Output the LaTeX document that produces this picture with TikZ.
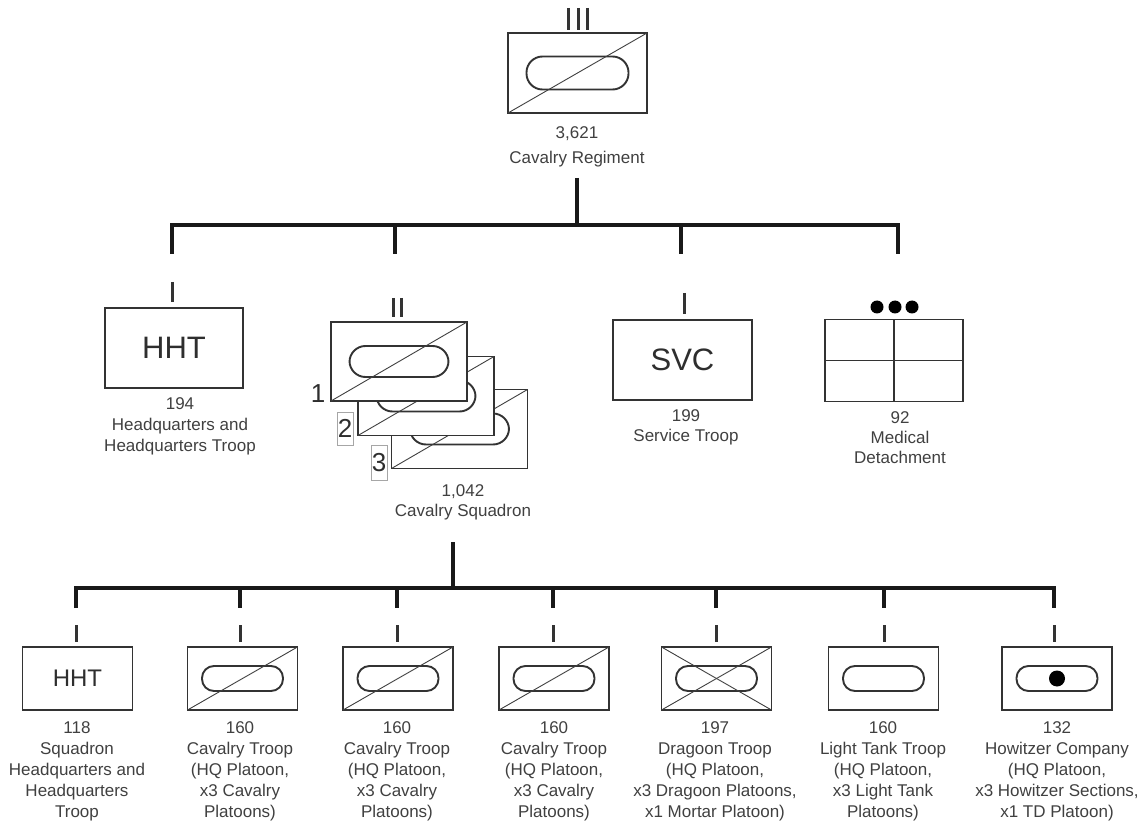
\documentclass[tikz,border=0pt]{standalone}
\usepackage{fontspec}
\setmainfont{Liberation Sans}
\begin{document}
\begin{tikzpicture}[x=1pt,y=-1pt,
  conn/.style={line width=3.6pt, draw=black!90, line cap=butt, line join=miter},
  unit/.style={draw=black!80, line width=1.9pt, fill=white, rectangle, inner sep=0pt, outer sep=0pt},
  bigunit/.style={unit, minimum width=138pt, minimum height=80pt},
  smallunit/.style={unit, minimum width=110pt, minimum height=63pt},
  squnit/.style={unit, minimum width=136pt, minimum height=79pt},
  pill/.style={draw=black!80, line width=1.9pt, rectangle, inner sep=0pt, rounded corners=#1},
  pill/.default=12pt,
  bigpill/.style={pill=16pt, minimum width=100pt, minimum height=32pt},
  smallpill/.style={pill=12pt, minimum width=81pt, minimum height=25pt},
  diag/.style={draw=black!75, line width=0.9pt},
  echelon/.style={draw=black!80, line width=3pt},
  lbl/.style={text=black!75, font=\fontsize{17}{21}\selectfont, align=center, inner sep=0pt, anchor=north},
  lbltwenty/.style={lbl, font=\fontsize{17}{20}\selectfont},
  abbr/.style={text=black!82, font=\fontsize{31}{31}\selectfont},
  abbrsmall/.style={text=black!82, font=\fontsize{24}{24}\selectfont},
  numlbl/.style={text=black!82, font=\fontsize{26}{26}\selectfont, inner sep=0pt},
  numbox/.style={numlbl, draw=black!35, line width=0.6pt, minimum width=16pt},
  dot/.style={fill=black, draw=none, circle, inner sep=0pt}
]
\useasboundingbox (0,0) rectangle (1144,829);

% ---------------- Regiment ----------------
\node[unit, minimum width=139pt, minimum height=80pt] (reg) at (577.5,73) {};
\node[bigpill, minimum width=102pt, minimum height=33pt] (regp) at (reg.center) {};
\draw[diag] (reg.south west) -- (reg.north east);
\draw[echelon] (568,8) -- (568,30) (578,8) -- (578,30) (587,8) -- (587,30);
\node[lbl, font=\fontsize{17}{25}\selectfont] (reglbl) at (577,126) {3,621\\Cavalry Regiment};

% upper bus
\coordinate (regstem) at (577,178);
\coordinate (busA) at (577,225);
\coordinate (dA1) at (172,254);
\coordinate (dA2) at (395,254);
\coordinate (dA3) at (681,254);
\coordinate (dA4) at (898,254);
\draw[conn] (regstem) -- (regstem |- busA);
\draw[conn] (dA1) -- (dA1 |- busA) -- (dA4 |- busA) -- (dA4);
\draw[conn] (dA2 |- busA) -- (dA2);
\draw[conn] (dA3 |- busA) -- (dA3);

% ---------------- HHT ----------------
\node[bigunit, abbr] (hht) at (174,348) {HHT};
\draw[echelon] (172,282) -- (172,302);
\node[lbl] (hhtlbl) at (180,397) {194\\Headquarters and\\Headquarters Troop};

% ---------------- Squadron stack ----------------
\node[squnit] (sq3) at (459.5,429) {};
\node[bigpill, minimum width=99pt, minimum height=31pt] (sqp3) at (sq3.center) {};
\draw[diag] (sq3.south west) -- (sq3.north east);
\node[squnit] (sq2) at (426,396) {};
\node[bigpill, minimum width=99pt, minimum height=31pt] (sqp2) at (sq2.center) {};
\draw[diag] (sq2.south west) -- (sq2.north east);
\node[squnit] (sq1) at (399,361.5) {};
\node[bigpill, minimum width=99pt, minimum height=31pt] (sqp1) at (sq1.center) {};
\draw[diag] (sq1.south west) -- (sq1.north east);
\draw[echelon] (393,298) -- (393,317) (401,298) -- (401,317);
\node[numlbl] (n1) at (318,394) {1};
\node[numbox, minimum height=33pt] (n2) at (345,428.5) {2};
\node[numbox, minimum height=35pt] (n3) at (379,462.5) {3};
\node[lbltwenty] (sqlbl) at (463,484) {1,042\\Cavalry Squadron};

% ---------------- SVC ----------------
\node[unit, minimum width=139pt, minimum height=80pt, abbr] (svc) at (682.5,360) {SVC};
\draw[echelon] (684,293) -- (684,314);
\node[lbltwenty] (svclbl) at (686,409) {199\\Service Troop};

% ---------------- Medical ----------------
\node[unit, minimum width=138pt, minimum height=82pt] (med) at (894,360.5) {};
\draw[draw=black!80, line width=1.9pt] (med.north) -- (med.south) (med.west) -- (med.east);
\node[dot, minimum size=13pt] (md1) at (877,307) {};
\node[dot, minimum size=13pt] (md2) at (895,307) {};
\node[dot, minimum size=13pt] (md3) at (912,307) {};
\node[lbltwenty] (medlbl) at (900,411) {92\\Medical\\Detachment};

% lower bus
\coordinate (sqstem) at (453,542);
\coordinate (busB) at (453,588);
\coordinate (dB1) at (76,608);
\coordinate (dB2) at (240,608);
\coordinate (dB3) at (397,608);
\coordinate (dB4) at (553,608);
\coordinate (dB5) at (716,608);
\coordinate (dB6) at (884,608);
\coordinate (dB7) at (1054,608);
\draw[conn] (sqstem) -- (sqstem |- busB);
\draw[conn] (dB1) -- (dB1 |- busB) -- (dB7 |- busB) -- (dB7);
\foreach \d in {dB2,dB3,dB4,dB5,dB6} \draw[conn] (\d |- busB) -- (\d);

% echelon marks bottom row
\foreach \x in {76,240,397,553,716,884,1054} \draw[echelon] (\x,625) -- (\x,642);

% ---------------- bottom row ----------------
\node[smallunit, abbrsmall] (b1) at (77.5,678.5) {HHT};

\node[smallunit] (b2) at (242.5,678.5) {};
\node[smallpill] (bp2) at (b2.center) {};
\draw[diag] (b2.south west) -- (b2.north east);

\node[smallunit] (b3) at (398,678.5) {};
\node[smallpill] (bp3) at (b3.center) {};
\draw[diag] (b3.south west) -- (b3.north east);

\node[smallunit] (b4) at (554,678.5) {};
\node[smallpill] (bp4) at (b4.center) {};
\draw[diag] (b4.south west) -- (b4.north east);

\node[smallunit] (b5) at (716.5,678.5) {};
\node[smallpill] (bp5) at (b5.center) {};
\draw[diag] (b5.south west) -- (b5.north east);
\draw[diag] (b5.north west) -- (b5.south east);

\node[smallunit] (b6) at (883.5,678.5) {};
\node[smallpill] (bp6) at (b6.center) {};

\node[smallunit] (b7) at (1057,678.5) {};
\node[smallpill] (bp7) at (b7.center) {};
\node[dot, minimum size=16pt] (bd7) at (b7.center) {};

\node[lbl] (bl1) at (77,721) {118\\Squadron\\Headquarters and\\Headquarters\\Troop};
\node[lbl] (bl2) at (240,721) {160\\Cavalry Troop\\(HQ Platoon,\\x3 Cavalry\\Platoons)};
\node[lbl] (bl3) at (397,721) {160\\Cavalry Troop\\(HQ Platoon,\\x3 Cavalry\\Platoons)};
\node[lbl] (bl4) at (554,721) {160\\Cavalry Troop\\(HQ Platoon,\\x3 Cavalry\\Platoons)};
\node[lbl] (bl5) at (715,721) {197\\Dragoon Troop\\(HQ Platoon,\\x3 Dragoon Platoons,\\x1 Mortar Platoon)};
\node[lbl] (bl6) at (883,721) {160\\Light Tank Troop\\(HQ Platoon,\\x3 Light Tank\\Platoons)};
\node[lbl] (bl7) at (1057,721) {132\\Howitzer Company\\(HQ Platoon,\\x3 Howitzer Sections,\\x1 TD Platoon)};
\end{tikzpicture}
\end{document}
